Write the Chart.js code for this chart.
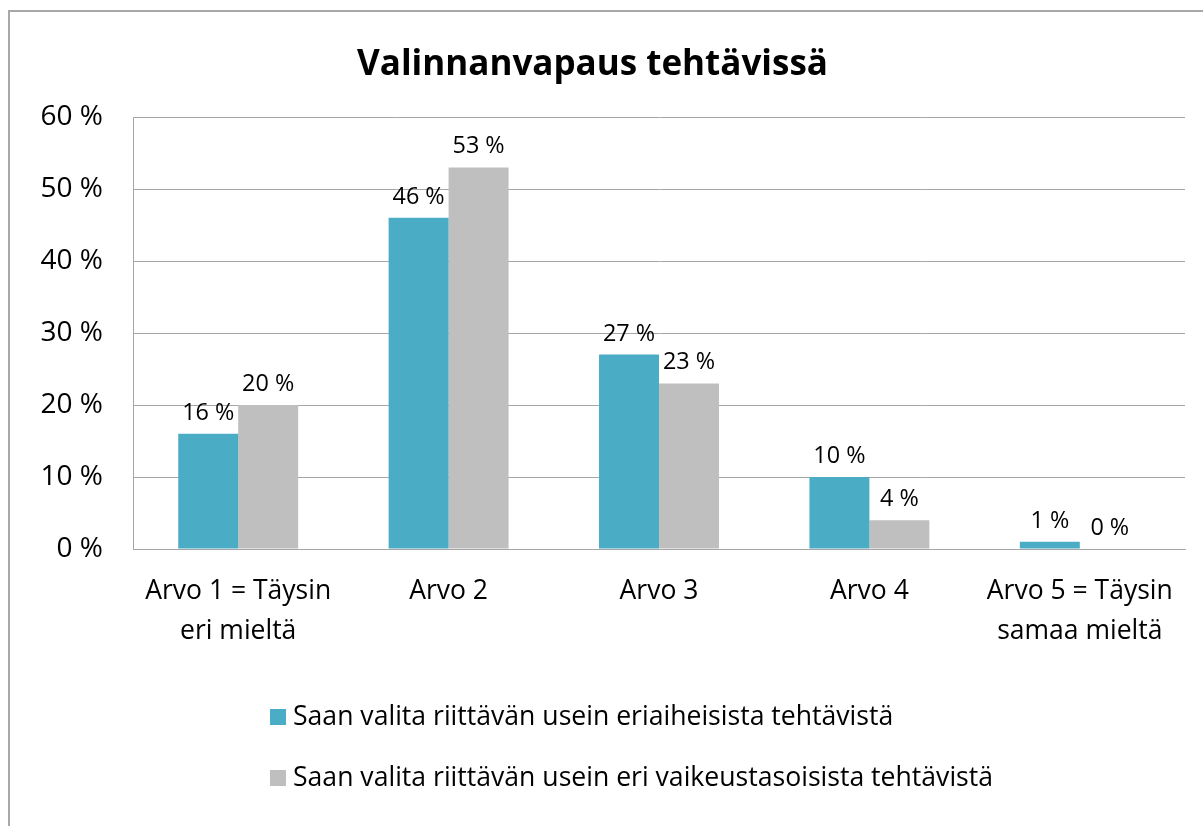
<!DOCTYPE html>
<html>
<head>
<meta charset="utf-8">
<script src="https://cdn.jsdelivr.net/npm/chart.js@4.4.1/dist/chart.umd.min.js"></script>
<style>
  html, body { margin: 0; padding: 0; background: #fff; overflow: hidden; }
  .frame { position: absolute; left: 8px; top: 10px; width: 1400px; height: 1000px;
           border-left: 2px solid #a8a8a8; border-top: 2px solid #a8a8a8; }
  #wrap { position: absolute; left: 0; top: 0; width: 1203px; height: 826px; }
</style>
</head>
<body>
<div class="frame"></div>
<div id="wrap"><canvas id="chart" width="1203" height="826"></canvas></div>
<script>
// Data
const categories = [
    ['Arvo 1 = Täysin', 'eri mieltä'],
    'Arvo 2',
    'Arvo 3',
    'Arvo 4',
    ['Arvo 5 = Täysin', 'samaa mieltä']
];
const seriesNames = [
    'Saan valita riittävän usein eriaiheisista tehtävistä',
    'Saan valita riittävän usein eri vaikeustasoisista tehtävistä'
];
const topicValues = [16, 46, 27, 10, 1];
const levelValues = [20, 53, 23, 4, 0];
const yTicks = [0, 10, 20, 30, 40, 50, 60];

const FONT = '"Open Sans"';
const GRID = '#a6a6a6';

// value labels above bars
const barLabels = {
    id: 'barLabels',
    afterDatasetsDraw(chart) {
        const ctx = chart.ctx;
        ctx.save();
        ctx.font = '23.4px ' + FONT;
        ctx.fillStyle = '#000';
        ctx.textAlign = 'center';
        ctx.textBaseline = 'alphabetic';
        chart.data.datasets.forEach((ds, i) => {
            chart.getDatasetMeta(i).data.forEach((bar, j) => {
                ctx.fillText(ds.data[j] + ' %', bar.x, bar.y - 14);
            });
        });
        ctx.restore();
    }
};

// legend: two rows, left aligned, under the axis labels
const rowLegend = {
    id: 'rowLegend',
    afterDraw(chart) {
        const ctx = chart.ctx;
        const base = chart.chartArea.bottom;
        ctx.save();
        ctx.font = '26.6px ' + FONT;
        ctx.textBaseline = 'middle';
        chart.data.datasets.forEach((ds, i) => {
            const y = base + 168 + i * 61;
            ctx.fillStyle = ds.backgroundColor;
            ctx.fillRect(270, y - 8, 16, 16);
            ctx.fillStyle = '#000';
            ctx.fillText(ds.label, 293, y);
        });
        ctx.restore();
    }
};

new Chart(document.getElementById('chart'), {
    type: 'bar',
    data: {
        labels: categories,
        datasets: [
            { label: seriesNames[0], data: topicValues, backgroundColor: '#4bacc6' },
            { label: seriesNames[1], data: levelValues, backgroundColor: '#bfbfbf' }
        ]
    },
    options: {
        responsive: false,
        animation: false,
        layout: { padding: { left: 0, right: 18, top: 0, bottom: 0 } },
        datasets: { bar: { categoryPercentage: 0.57, barPercentage: 1.0 } },
        plugins: {
            legend: { display: false },
            tooltip: { enabled: false },
            title: {
                display: true,
                text: 'Valinnanvapaus tehtävissä',
                color: '#000',
                font: { family: 'Open Sans', size: 35, weight: 'bold', lineHeight: 1.2 },
                padding: { top: 44, bottom: 31 }
            }
        },
        scales: {
            x: {
                grid: { display: false, drawTicks: false },
                border: { display: true, color: GRID, width: 1 },
                ticks: {
                    color: '#000',
                    padding: 23,
                    maxRotation: 0,
                    font: { family: 'Open Sans', size: 26.5, lineHeight: 1.5 }
                },
                afterFit(s) { s.height = 277; }
            },
            y: {
                min: 0,
                max: 60,
                afterBuildTicks(s) { s.ticks = yTicks.map(v => ({ value: v })); },
                grid: { color: GRID, drawTicks: false },
                border: { display: true, color: GRID, width: 1 },
                ticks: {
                    color: '#000',
                    padding: 30,
                    font: { family: 'Open Sans', size: 28 },
                    callback: v => v + ' %'
                },
                afterFit(s) { s.width = 133; }
            }
        }
    },
    plugins: [barLabels, rowLegend]
});
</script>
</body>
</html>
